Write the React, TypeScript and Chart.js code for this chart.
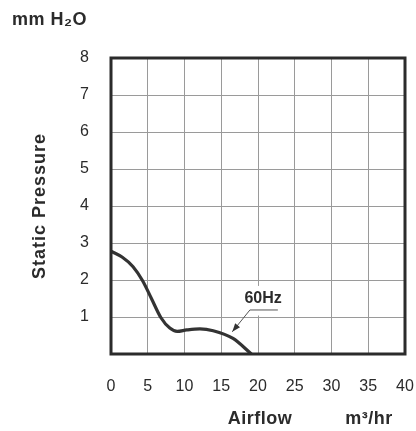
import React, { useEffect, useRef } from "react";
import { Chart, registerables } from "chart.js";

Chart.register(...registerables);

const airflow = [0, 1.5, 3, 4.3, 5.5, 6.8, 8.0, 9.0, 10.3, 12.1, 13.9, 16.6, 19.1];
const pressure = [2.78, 2.62, 2.36, 1.98, 1.5, 0.98, 0.7, 0.61, 0.65, 0.68, 0.63, 0.42, 0];
const xTicks = [0, 5, 10, 15, 20, 25, 30, 35, 40];
const yTicks = [0, 1, 2, 3, 4, 5, 6, 7, 8];
const curveLabel = "60Hz";
const labelAt = { x: 20.7, y: 1.51 };
const underlineFrom = { x: 18.9, y: 1.19 };
const underlineTo = { x: 22.7, y: 1.19 };
const arrowTip = { x: 16.5, y: 0.6 };
const labelBoxMin = { x: 17.6, y: 1.04 };
const labelBoxMax = { x: 23.1, y: 1.84 };

const FONT = "'Liberation Sans', Arial, Helvetica, sans-serif";
const INK = "#2b2b2b";

const decorPlugin = {
  id: "decor",
  beforeDatasetsDraw(chart: any) {
    const { ctx, scales } = chart;
    const xs = scales.x, ys = scales.y;
    ctx.save();
    ctx.fillStyle = "#ffffff";
    const x0 = xs.getPixelForValue(labelBoxMin.x), x1 = xs.getPixelForValue(labelBoxMax.x);
    const y0 = ys.getPixelForValue(labelBoxMax.y), y1 = ys.getPixelForValue(labelBoxMin.y);
    ctx.fillRect(x0, y0, x1 - x0, y1 - y0);
    ctx.restore();
  },
  afterDraw(chart: any) {
    const { ctx, chartArea, scales } = chart;
    const xs = scales.x, ys = scales.y;
    ctx.save();
    // frame
    ctx.strokeStyle = INK;
    ctx.lineWidth = 3;
    ctx.strokeRect(chartArea.left, chartArea.top, chartArea.right - chartArea.left, chartArea.bottom - chartArea.top);

    // annotation
    ctx.fillStyle = INK;
    ctx.font = `bold 16px ${FONT}`;
    ctx.textAlign = "center";
    ctx.textBaseline = "middle";
    ctx.fillText(curveLabel, xs.getPixelForValue(labelAt.x), ys.getPixelForValue(labelAt.y));
    const ux0 = xs.getPixelForValue(underlineFrom.x), uy = ys.getPixelForValue(underlineFrom.y);
    const ux1 = xs.getPixelForValue(underlineTo.x);
    const tx = xs.getPixelForValue(arrowTip.x), ty = ys.getPixelForValue(arrowTip.y);
    ctx.strokeStyle = "#555";
    ctx.lineWidth = 1;
    ctx.beginPath();
    ctx.moveTo(ux1, uy);
    ctx.lineTo(ux0, uy);
    ctx.lineTo(tx, ty);
    ctx.stroke();
    const ang = Math.atan2(ty - uy, tx - ux0);
    const len = 9, half = 0.35;
    ctx.fillStyle = "#333";
    ctx.beginPath();
    ctx.moveTo(tx, ty);
    ctx.lineTo(tx - len * Math.cos(ang - half), ty - len * Math.sin(ang - half));
    ctx.lineTo(tx - len * Math.cos(ang + half), ty - len * Math.sin(ang + half));
    ctx.closePath();
    ctx.fill();

    // titles
    ctx.fillStyle = INK;
    ctx.font = `bold 18px ${FONT}`;
    (ctx as any).letterSpacing = "0.5px";
    ctx.textBaseline = "middle";
    ctx.textAlign = "left";
    ctx.fillText("mm H\u2082O", 12, 20);
    ctx.textAlign = "center";
    ctx.fillText("Airflow", 260, 419);
    ctx.fillText("m\u00B3/hr", 369, 419);
    ctx.translate(40, 206);
    ctx.rotate(-Math.PI / 2);
    (ctx as any).letterSpacing = "1px";
    ctx.fillText("Static Pressure", 0, 0);
    ctx.restore();
  },
};

export default function App() {
  const ref = useRef<HTMLCanvasElement>(null);
  useEffect(() => {
    if (!ref.current) return;
    const chart = new Chart(ref.current, {
      type: "scatter",
      data: {
        datasets: [
          {
            data: airflow.map((x, i) => ({ x, y: pressure[i] })),
            showLine: true,
            borderColor: "#333",
            borderWidth: 3.2,
            pointRadius: 0,
            tension: 0.4,
            cubicInterpolationMode: "monotone",
            fill: false,
          },
        ],
      },
      options: {
        responsive: false,
        animation: false,
        devicePixelRatio: 1,
        layout: { padding: { top: 58, right: 11, left: 0, bottom: 0 } },
        plugins: { legend: { display: false }, tooltip: { enabled: false } },
        scales: {
          x: {
            type: "linear",
            min: 0,
            max: 40,
            afterFit: (s: any) => { s.height = 77; s.paddingRight = 0; s.paddingLeft = 0; },
            afterBuildTicks: (s: any) => { s.ticks = xTicks.map((v) => ({ value: v })); },
            grid: { color: "#9a9a9a", lineWidth: 1, drawTicks: false },
            border: { display: false },
            ticks: { padding: 23, color: INK, font: { family: FONT, size: 16 } },
          },
          y: {
            type: "linear",
            min: 0,
            max: 8,
            afterFit: (s: any) => { s.width = 111; s.paddingTop = 0; s.paddingBottom = 0; },
            afterBuildTicks: (s: any) => { s.ticks = yTicks.map((v) => ({ value: v })); },
            grid: { color: "#9a9a9a", lineWidth: 1, drawTicks: false },
            border: { display: false },
            ticks: {
              padding: 22,
              color: INK,
              font: { family: FONT, size: 16 },
              callback: (v: any) => (v === 0 ? "" : String(v)),
            },
          },
        },
      },
      plugins: [decorPlugin],
    });
    return () => chart.destroy();
  }, []);
  return (
    <div style={{ position: "absolute", left: 0, top: 0, width: 416, height: 431, background: "#fff" }}>
      <canvas ref={ref} width={416} height={431} style={{ width: 416, height: 431 }} />
    </div>
  );
}
